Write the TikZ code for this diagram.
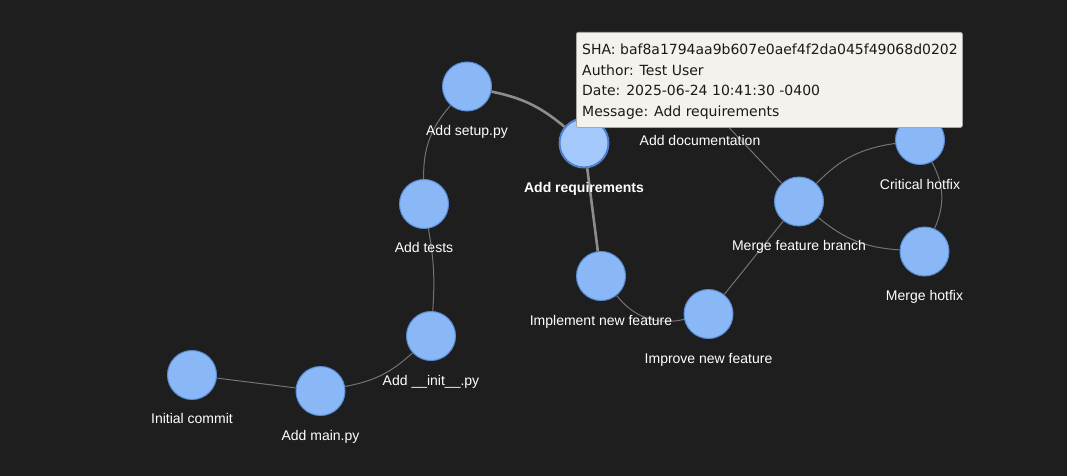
\documentclass[tikz,border=0pt]{standalone}
\usepackage{fontspec}
\setmainfont{Liberation Sans}
\newfontfamily\tipfont{DejaVu Sans}
\definecolor{bg}{HTML}{1E1E1E}
\definecolor{nfill}{HTML}{8AB8F6}
\definecolor{nborder}{HTML}{5A8CD6}
\definecolor{hfill}{HTML}{A3C8FB}
\definecolor{hborder}{HTML}{4F80C8}
\definecolor{edgec}{HTML}{737373}
\definecolor{hedgec}{HTML}{8C8C8C}
\definecolor{tipbg}{HTML}{F4F2EC}
\definecolor{tipborder}{HTML}{A8A8A8}
\definecolor{tiptext}{HTML}{1A1A1A}
\tikzset{
  commit/.style={circle, minimum size=49pt, inner sep=0pt, fill=nfill, draw=nborder, line width=1pt},
  hcommit/.style={circle, minimum size=49pt, inner sep=0pt, fill=hfill, draw=hborder, line width=2pt},
  lab/.style={anchor=base, text=white, inner sep=0pt, font=\fontsize{14}{16}\selectfont},
  hlab/.style={lab, font=\fontsize{14}{16}\selectfont\bfseries},
  edge/.style={draw=edgec, line width=1pt},
  hedge/.style={draw=hedgec, line width=2.6pt},
  tipbox/.style={rectangle, rounded corners=2pt, fill=tipbg, draw=tipborder, line width=0.8pt, inner sep=0pt},
  tipline/.style={anchor=base west, inner sep=0pt, text=tiptext, font=\tipfont\fontsize{14}{16}\selectfont}
}
\begin{document}
\begin{tikzpicture}[x=1pt,y=-1pt]
\fill[bg] (0,0) rectangle (1067,476);
\useasboundingbox (0,0) rectangle (1067,476);
% commits
\node[commit] (init) at (192,375) {};
\node[commit] (main) at (320.5,391) {};
\node[commit] (initpy) at (431,336) {};
\node[commit] (tests) at (424,204) {};
\node[commit] (setup) at (467,86.5) {};
\node[hcommit] (req) at (584,143) {};
\node[commit] (impl) at (601,276) {};
\node[commit] (impr) at (708.5,314) {};
\node[commit] (merge) at (799,201.5) {};
\node[commit] (doc) at (700,97) {};
\node[commit] (crit) at (920,140) {};
\node[commit] (hot) at (924.5,251.5) {};
% edges
\draw[edge] (init) -- (main);
\draw[edge] (main) to[bend right=16] (initpy);
\draw[edge] (initpy) to[bend right=7] (tests);
\draw[edge] (tests) to[bend left=21] (setup);
\draw[hedge] (setup) to[bend left=14] (req);
\draw[hedge] (req) -- (impl);
\draw[edge] (impl) to[bend right=32] (impr);
\draw[edge] (impr) -- (merge);
\draw[edge] (merge) -- (doc);
\draw[edge] (merge) to[bend left=19] (crit);
\draw[edge] (merge) to[bend right=18] (hot);
\draw[edge] (crit) to[bend left=26] (hot);
% labels
\node[lab] (l-init) at (192,423.5) {Initial commit};
\node[lab] (l-main) at (320.5,440) {Add main.py};
\node[lab] (l-initpy) at (431,385) {Add \_\_init\_\_.py};
\node[lab] (l-tests) at (424,252.5) {Add tests};
\node[lab] (l-setup) at (467,135.5) {Add setup.py};
\node[hlab] (l-req) at (584,192) {Add requirements};
\node[lab] (l-impl) at (601,325) {Implement new feature};
\node[lab] (l-impr) at (708.5,363) {Improve new feature};
\node[lab] (l-merge) at (799,250.5) {Merge feature branch};
\node[lab] (l-doc) at (700,146) {Add documentation};
\node[lab] (l-crit) at (920,189) {Critical hotfix};
\node[lab] (l-hot) at (924.5,300.5) {Merge hotfix};
% tooltip
\node[tipbox, anchor=north west, minimum width=386pt, minimum height=95pt] (tip) at (576,32) {};
\node[tipline] (t1) at (582,54.3) {SHA: baf8a1794aa9b607e0aef4f2da045f49068d0202};
\node[tipline] (t2) at (582,75.1) {Author: Test User};
\node[tipline] (t3) at (582,95.9) {Date: 2025-06-24 10:41:30 -0400};
\node[tipline] (t4) at (582,116.7) {Message: Add requirements};
\end{tikzpicture}
\end{document}
